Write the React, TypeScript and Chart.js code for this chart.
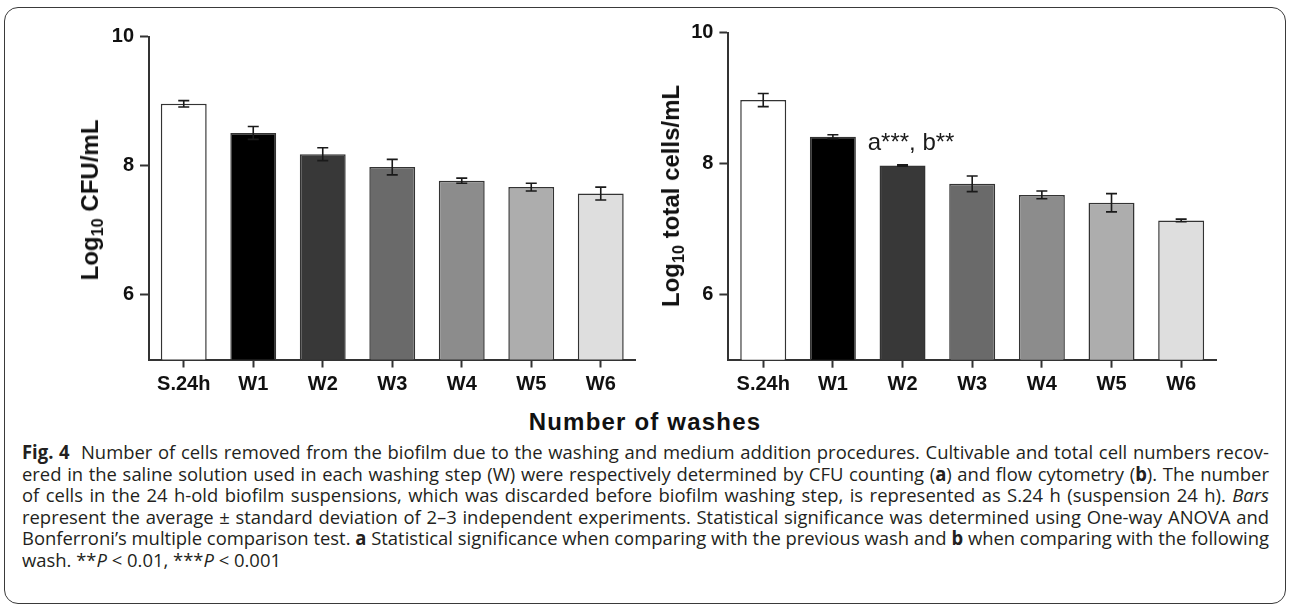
import React, { useEffect, useLayoutEffect, useRef } from "react";
import { Chart, registerables } from "chart.js";

Chart.register(...registerables);

// ---------- data ----------
const categories = ["S.24h", "W1", "W2", "W3", "W4", "W5", "W6"];
const cfuMeans = [8.96, 8.51, 8.18, 7.98, 7.77, 7.67, 7.57];
const cfuSD = [0.05, 0.1, 0.1, 0.12, 0.04, 0.06, 0.1];
const totalMeans = [8.97, 8.41, 7.97, 7.69, 7.52, 7.4, 7.13];
const totalSD = [0.1, 0.03, 0.01, 0.12, 0.06, 0.14, 0.02];
const barColors = ["#ffffff", "#000000", "#383838", "#6a6a6a", "#8c8c8c", "#adadad", "#dedede"];
const yTickValues = [6, 8, 10];
const yMin = 5;
const yMax = 10;
const annotationText = "a***, b**";
const annotationIndex = 1.5;
const annotationValue = 8.2;
const xAxisTitle = "Number of washes";

const AXIS_FONT = '"Liberation Sans", Arial, Helvetica, sans-serif';
const INK = "#111111";
const LINE = "#333333";

type PanelProps = {
  left: number;
  top: number;
  width: number;
  height: number;
  means: number[];
  sds: number[];
  yAxisWidth: number;
  padRight: number;
  padTop: number;
  xAxisHeight: number;
  annotate?: boolean;
};

function BarPanel(p: PanelProps) {
  const ref = useRef<HTMLCanvasElement | null>(null);
  useEffect(() => {
    if (!ref.current) return;
    const errorBars = {
      id: "errorBars",
      afterDatasetsDraw(chart: any) {
        const ctx = chart.ctx;
        const y = chart.scales.y;
        const meta = chart.getDatasetMeta(0);
        ctx.save();
        ctx.strokeStyle = "#1a1a1a";
        ctx.lineWidth = 1.6;
        meta.data.forEach((bar: any, i: number) => {
          const v = p.means[i];
          const e = p.sds[i];
          const yt = y.getPixelForValue(v + e);
          const yb = y.getPixelForValue(v - e);
          const x = bar.x;
          const cap = 5.5;
          ctx.beginPath();
          ctx.moveTo(x, yt);
          ctx.lineTo(x, yb);
          ctx.moveTo(x - cap, yt);
          ctx.lineTo(x + cap, yt);
          ctx.moveTo(x - cap, yb);
          ctx.lineTo(x + cap, yb);
          ctx.stroke();
        });
        if (p.annotate) {
          const xs = chart.scales.x;
          const i0 = Math.floor(annotationIndex);
          const f = annotationIndex - i0;
          const ax = xs.getPixelForValue(i0) * (1 - f) + xs.getPixelForValue(i0 + 1) * f;
          const ay = y.getPixelForValue(annotationValue);
          ctx.fillStyle = "#1a1a1a";
          ctx.font = `24px ${AXIS_FONT}`;
          ctx.textAlign = "left";
          ctx.textBaseline = "alphabetic";
          ctx.fillText(annotationText, ax, ay);
        }
        ctx.restore();
      },
    };
    const chart = new Chart(ref.current, {
      type: "bar",
      data: {
        labels: categories,
        datasets: [
          {
            data: p.means,
            backgroundColor: barColors,
            borderColor: LINE,
            borderWidth: 1.5,
            barPercentage: 0.66,
            categoryPercentage: 1,
          },
        ],
      },
      options: {
        animation: false,
        responsive: false,
        maintainAspectRatio: false,
        devicePixelRatio: 1,
        layout: { padding: { left: 0, right: p.padRight, top: p.padTop, bottom: 0 } },
        plugins: { legend: { display: false }, tooltip: { enabled: false }, title: { display: false } },
        scales: {
          x: {
            type: "category",
            offset: true,
            grid: {
              display: true,
              drawOnChartArea: false,
              drawTicks: true,
              tickLength: 8,
              tickWidth: 2,
              tickColor: LINE,
              offset: false,
            },
            border: { display: true, color: LINE, width: 2 },
            ticks: {
              color: INK,
              font: { family: AXIS_FONT, size: 20, weight: "bold" },
              padding: 5,
              maxRotation: 0,
              autoSkip: false,
            },
            afterFit: (s: any) => {
              s.height = p.xAxisHeight;
            },
          },
          y: {
            type: "linear",
            min: yMin,
            max: yMax,
            afterBuildTicks: (s: any) => {
              s.ticks = yTickValues.map((v) => ({ value: v }));
            },
            grid: {
              display: true,
              drawOnChartArea: false,
              drawTicks: true,
              tickLength: 9,
              tickWidth: 2,
              tickColor: LINE,
            },
            border: { display: true, color: LINE, width: 2 },
            ticks: {
              color: INK,
              font: { family: AXIS_FONT, size: 20, weight: "bold" },
              padding: 6,
            },
            afterFit: (s: any) => {
              s.width = p.yAxisWidth;
            },
          },
        },
      } as any,
      plugins: [errorBars],
    });
    return () => chart.destroy();
  }, []);
  return (
    <canvas
      ref={ref}
      width={p.width}
      height={p.height}
      style={{ position: "absolute", left: p.left, top: p.top, width: p.width, height: p.height }}
    />
  );
}

function YTitle({ cx, cy, rest }: { cx: number; cy: number; rest: string }) {
  return (
    <div
      style={{
        position: "absolute",
        left: cx,
        top: cy,
        transform: "translate(-50%, -50%) rotate(-90deg)",
        whiteSpace: "nowrap",
        fontFamily: AXIS_FONT,
        fontWeight: "bold",
        fontSize: 24,
        lineHeight: "28px",
        color: INK,
      }}
    >
      Log
      <span style={{ fontSize: "0.68em", position: "relative", top: "0.3em" }}>10</span>
      {" " + rest}
    </div>
  );
}

const captionLines: React.ReactNode[][] = [
  [
    <b key="f" style={{ marginRight: 6 }}>Fig. 4</b>,
    " Number of cells removed from the biofilm due to the washing and medium addition procedures. Cultivable and total cell numbers recov-",
  ],
  [
    "ered in the saline solution used in each washing step (W) were respectively determined by CFU counting (",
    <b key="a">a</b>,
    ") and flow cytometry (",
    <b key="b">b</b>,
    "). The number",
  ],
  [
    "of cells in the 24 h-old biofilm suspensions, which was discarded before biofilm washing step, is represented as S.24 h (suspension 24 h). ",
    <i key="i">Bars</i>,
  ],
  [
    "represent the average ± standard deviation of 2–3 independent experiments. Statistical significance was determined using One-way ANOVA and",
  ],
  [
    "Bonferroni’s multiple comparison test. ",
    <b key="a2">a</b>,
    " Statistical significance when comparing with the previous wash and ",
    <b key="b2">b</b>,
    " when comparing with the following",
  ],
  ["wash. **", <i key="p1">P</i>, " < 0.01, ***", <i key="p2">P</i>, " < 0.001"],
];

const CAPTION_LEFT = 21.5;
const CAPTION_WIDTH = 1247;
const CAPTION_LH = 21.5;
const CAPTION_TOP = 453 - CAPTION_LH / 2;

function Caption() {
  const spans = useRef<(HTMLSpanElement | null)[]>([]);
  useLayoutEffect(() => {
    const els = spans.current;
    const widths = els.map((el) => (el ? el.getBoundingClientRect().width : 0));
    let k = 1;
    widths.forEach((w, i) => {
      if (i < els.length - 1 && w > 0) k = Math.min(k, CAPTION_WIDTH / w);
    });
    els.forEach((el, i) => {
      if (!el) return;
      el.style.transform = `scaleX(${k})`;
      if (i < els.length - 1) {
        const spaces = ((el.textContent || "").match(/ /g) || []).length;
        const extra = CAPTION_WIDTH / k - widths[i];
        if (spaces > 0) el.style.wordSpacing = `${extra / spaces}px`;
      }
    });
  }, []);
  return (
    <div
      style={{
        position: "absolute",
        left: CAPTION_LEFT,
        top: CAPTION_TOP,
        width: CAPTION_WIDTH,
        fontFamily: '"Open Sans", "Noto Sans", sans-serif',
        fontSize: 19,
        color: "#231f20",
      }}
    >
      {captionLines.map((parts, i) => (
        <div key={i} style={{ height: CAPTION_LH, lineHeight: `${CAPTION_LH}px`, whiteSpace: "nowrap" }}>
          <span
            ref={(el) => {
              spans.current[i] = el;
            }}
            style={{ display: "inline-block", whiteSpace: "nowrap", transformOrigin: "left center" }}
          >
            {parts}
          </span>
        </div>
      ))}
    </div>
  );
}

export default function App() {
  return (
    <div
      style={{
        position: "absolute",
        left: 0,
        top: 0,
        width: 1290,
        height: 607,
        background: "#ffffff",
        overflow: "hidden",
      }}
    >
      <div
        style={{
          position: "absolute",
          left: 4,
          top: 6.5,
          width: 1282,
          height: 597,
          boxSizing: "border-box",
          border: "1.5px solid #3a3a3a",
          borderRadius: 14,
        }}
      />
      <BarPanel
        left={0}
        top={0}
        width={645}
        height={400}
        means={cfuMeans}
        sds={cfuSD}
        yAxisWidth={149}
        padRight={9.5}
        padTop={36.7}
        xAxisHeight={40.5}
      />
      <BarPanel
        left={645}
        top={0}
        width={645}
        height={400}
        means={totalMeans}
        sds={totalSD}
        yAxisWidth={83.4}
        padRight={74}
        padTop={32.7}
        xAxisHeight={40.3}
        annotate
      />
      <YTitle cx={91} cy={199.5} rest="CFU/mL" />
      <YTitle cx={672} cy={196} rest="total cells/mL" />
      <div
        style={{
          position: "absolute",
          left: 0,
          width: 1290,
          top: 407,
          height: 30,
          lineHeight: "30px",
          textAlign: "center",
          fontFamily: AXIS_FONT,
          fontWeight: "bold",
          fontSize: 24,
          letterSpacing: 1.2,
          color: INK,
        }}
      >
        {xAxisTitle}
      </div>
      <Caption />
    </div>
  );
}
